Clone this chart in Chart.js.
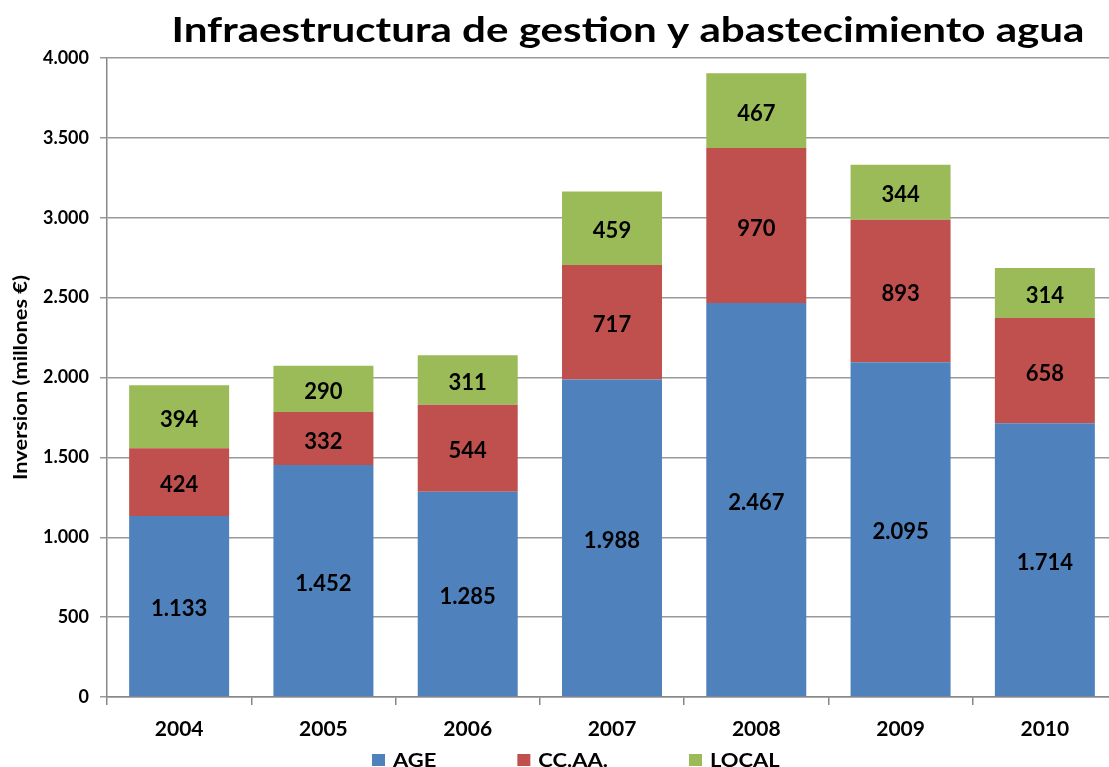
<!DOCTYPE html>
<html>
<head>
<meta charset="utf-8">
<script src="https://cdn.jsdelivr.net/npm/chart.js@4.4.1/dist/chart.umd.min.js"></script>
<style>
html,body{margin:0;padding:0;background:#fff;overflow:hidden;}
#wrap{width:1117px;height:767px;position:relative;}
</style>
</head>
<body>
<div id="wrap"><canvas id="c" width="1117" height="767"></canvas></div>
<script>
const titleText = 'Infraestructura de gestion y abastecimiento agua';
const yAxisTitle = 'Inversion (millones €)';
const categories = ['2004','2005','2006','2007','2008','2009','2010'];
const seriesNames = ['AGE','CC.AA.','LOCAL'];
const ageValues = [1133,1452,1285,1988,2467,2095,1714];
const ccaaValues = [424,332,544,717,970,893,658];
const localValues = [394,290,311,459,467,344,314];
const seriesColors = ['#4F81BD','#C0504D','#9BBB59'];
const yMin = 0, yMax = 4000, yStep = 500;

const FONT = 'Lato, Carlito, "Open Sans", sans-serif';
function fmt(v){ return String(Math.round(v)).replace(/\B(?=(\d{3})+(?!\d))/g,'.'); }

const labelPlugin = {
  id:'segLabels',
  afterDatasetsDraw(chart){
    const ctx = chart.ctx;
    ctx.save();
    ctx.font = 'bold 22px ' + FONT;
    ctx.fillStyle = '#000';
    ctx.textAlign = 'center';
    ctx.textBaseline = 'middle';
    chart.data.datasets.forEach((ds,i)=>{
      const meta = chart.getDatasetMeta(i);
      meta.data.forEach((el,j)=>{
        const y = (el.y + el.base)/2 + 3;
        ctx.fillText(fmt(ds.data[j]), el.x, y);
      });
    });
    ctx.restore();
  }
};

function stretchedText(ctx, text, x, y, sx, align, rot){
  ctx.save();
  ctx.translate(x, y);
  if (rot) ctx.rotate(rot);
  ctx.scale(sx, 1);
  ctx.textAlign = align;
  ctx.fillText(text, 0, 0);
  ctx.restore();
}

const textPlugin = {
  id:'customTexts',
  afterDraw(chart){
    const ctx = chart.ctx;
    ctx.save();
    ctx.fillStyle = '#000';
    ctx.textBaseline = 'alphabetic';
    // title
    ctx.font = 'bold 34px ' + FONT;
    const tw = ctx.measureText(titleText).width;
    const tsx = 913 / tw;
    stretchedText(ctx, titleText, 628, 42, tsx, 'center', 0);
    // y axis title
    ctx.font = 'bold 18px ' + FONT;
    const yw = ctx.measureText(yAxisTitle).width;
    const ysx = 205 / yw;
    const ya = chart.chartArea;
    stretchedText(ctx, yAxisTitle, 27, (ya.top + ya.bottom)/2, ysx, 'center', -Math.PI/2);
    // legend
    ctx.font = 'bold 18px ' + FONT;
    const lsx = 1.22, bw = 13, bh = 12, gap = 8, spacing = 81;
    let x = 372;
    chart.data.datasets.forEach((ds)=>{
      ctx.fillStyle = ds.backgroundColor;
      ctx.fillRect(x, 754, bw, bh);
      ctx.fillStyle = '#000';
      const w = ctx.measureText(ds.label).width * lsx;
      stretchedText(ctx, ds.label, x + bw + gap, 766.5, lsx, 'left', 0);
      x += bw + gap + w + spacing;
    });
    ctx.restore();
  }
};

const seriesData = [ageValues, ccaaValues, localValues];
new Chart(document.getElementById('c'), {
  type:'bar',
  data:{
    labels: categories,
    datasets: seriesNames.map((n,i)=>({
      label:n,
      data:seriesData[i],
      backgroundColor:seriesColors[i],
      borderWidth:0,
      categoryPercentage:1,
      barPercentage:0.693
    }))
  },
  options:{
    responsive:false,
    animation:false,
    layout:{padding:{top:58,right:0,bottom:0,left:0}},
    plugins:{legend:{display:false},title:{display:false},tooltip:{enabled:false}},
    scales:{
      x:{
        stacked:true,
        border:{color:'#888',width:1.5},
        grid:{drawOnChartArea:false,offset:true,tickLength:8,color:'#888',lineWidth:1.5},
        ticks:{color:'#000',font:{family:FONT,weight:'bold',size:21},padding:12,maxRotation:0},
        afterFit(s){ s.height = 70; }
      },
      y:{
        stacked:true,
        min:yMin,max:yMax,
        border:{color:'#888',width:1.5},
        grid:{color:'#999',lineWidth:1.5,tickLength:7},
        ticks:{stepSize:yStep,color:'#000',font:{family:FONT,weight:'bold',size:18},padding:11,
          callback:(v)=>fmt(v)},
        title:{display:false},
        afterFit(s){ s.width = 107; }
      }
    }
  },
  plugins:[labelPlugin,textPlugin]
});
</script>
</body>
</html>
